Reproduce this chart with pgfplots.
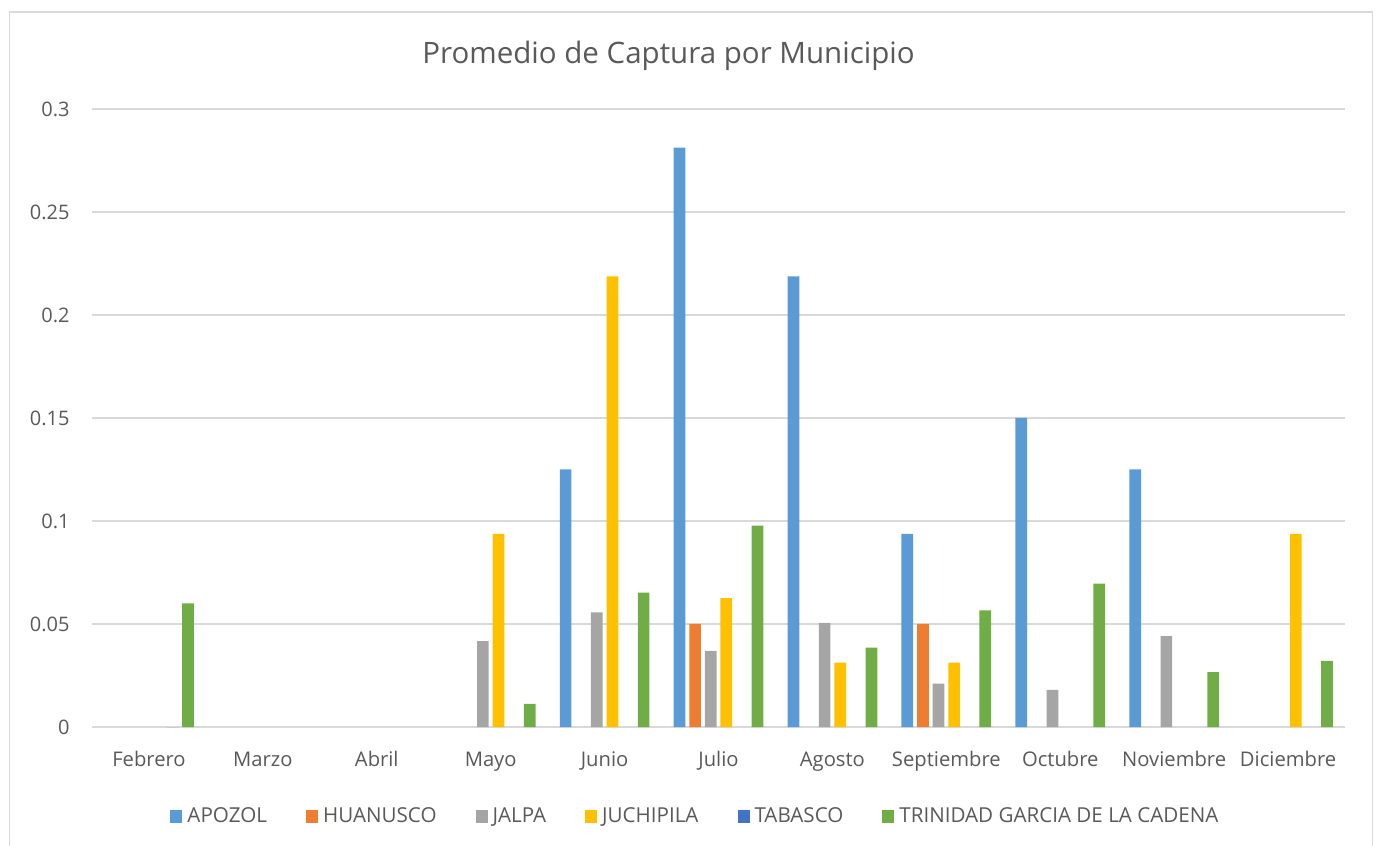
\documentclass[border=0pt]{standalone}
\usepackage{pgfplots}
\pgfplotsset{compat=1.18}
\usepackage{fontspec}
\setmainfont{Open Sans}
\definecolor{cApozol}{HTML}{5B9BD5}
\definecolor{cHuan}{HTML}{ED7D31}
\definecolor{cJalpa}{HTML}{A5A5A5}
\definecolor{cJuch}{HTML}{FFC000}
\definecolor{cTab}{HTML}{4472C4}
\definecolor{cTrin}{HTML}{70AD47}
\definecolor{gridg}{HTML}{D9D9D9}
\definecolor{txtg}{HTML}{595959}
\begin{document}
\begin{tikzpicture}
\path[use as bounding box] (0,0) rectangle (689.5pt,422.5pt);
\draw[gridg, line width=0.75pt] (4.65pt,-3pt) -- (4.65pt,416.6pt) -- (686.3pt,416.6pt) -- (686.3pt,-3pt);
\node[anchor=base, text=txtg, inner sep=0pt, font=\fontsize{14.75}{17}\selectfont] at (334.25pt,390.5pt) {Promedio de Captura por Municipio};
\begin{axis}[
  at={(46pt,59pt)}, anchor=south west,
  scale only axis, width=626.5pt, height=309pt,
  xmin=-0.5, xmax=10.5, ymin=0, ymax=0.3,
  ybar=1.95pt, bar width=5.85pt,
  axis line style={draw=none},
  major tick length=0pt,
  ymajorgrids, major grid style={gridg, line width=0.7pt},
  ytick={0,0.05,0.1,0.15,0.2,0.25,0.3},
  yticklabels={0,0.05,0.1,0.15,0.2,0.25,0.3},
  xtick={0,1,2,3,4,5,6,7,8,9,10},
  xticklabels={Febrero,Marzo,Abril,Mayo,Junio,Julio,Agosto,Septiembre,Octubre,Noviembre,Diciembre},
  yticklabel style={text=txtg, font=\fontsize{10}{12}\selectfont, inner sep=0pt, anchor=east, xshift=-11pt},
  xticklabel style={text=txtg, font=\fontsize{10.1}{12}\selectfont, inner sep=0pt, anchor=base, yshift=-19.5pt},
  legend image code/.code={\fill (0pt,-3.2pt) rectangle (6pt,3.2pt);},
  legend style={draw=none, fill=none, at={(0.4824,-0.145)}, anchor=center,
    font=\fontsize{10.3}{12}\selectfont, text=txtg,
    legend columns=6,
    /tikz/every odd column/.append style={column sep=0.5pt},
    /tikz/every even column/.append style={column sep=17.5pt}},
]
\addplot[fill=cApozol, draw=none] coordinates {(4,0.125) (5,0.28125) (6,0.21875) (7,0.09375) (8,0.15) (9,0.125)};
\addplot[fill=cHuan, draw=none] coordinates {(5,0.05) (7,0.05)};
\addplot[fill=cJalpa, draw=none] coordinates {(3,0.0417) (4,0.0556) (5,0.037) (6,0.0505) (7,0.021) (8,0.018) (9,0.0441)};
\addplot[fill=cJuch, draw=none] coordinates {(3,0.09375) (4,0.21875) (5,0.0625) (6,0.03125) (7,0.03125) (10,0.09375)};
\addplot[fill=cTab, draw=none] coordinates {(0,0)};
\addplot[fill=cTrin, draw=none] coordinates {(0,0.06) (3,0.0112) (4,0.0652) (5,0.0978) (6,0.0385) (7,0.0566) (8,0.0696) (9,0.0266) (10,0.0321)};
\legend{APOZOL,HUANUSCO,JALPA,JUCHIPILA,TABASCO,TRINIDAD GARCIA DE LA CADENA}
\end{axis}
\end{tikzpicture}
\end{document}
